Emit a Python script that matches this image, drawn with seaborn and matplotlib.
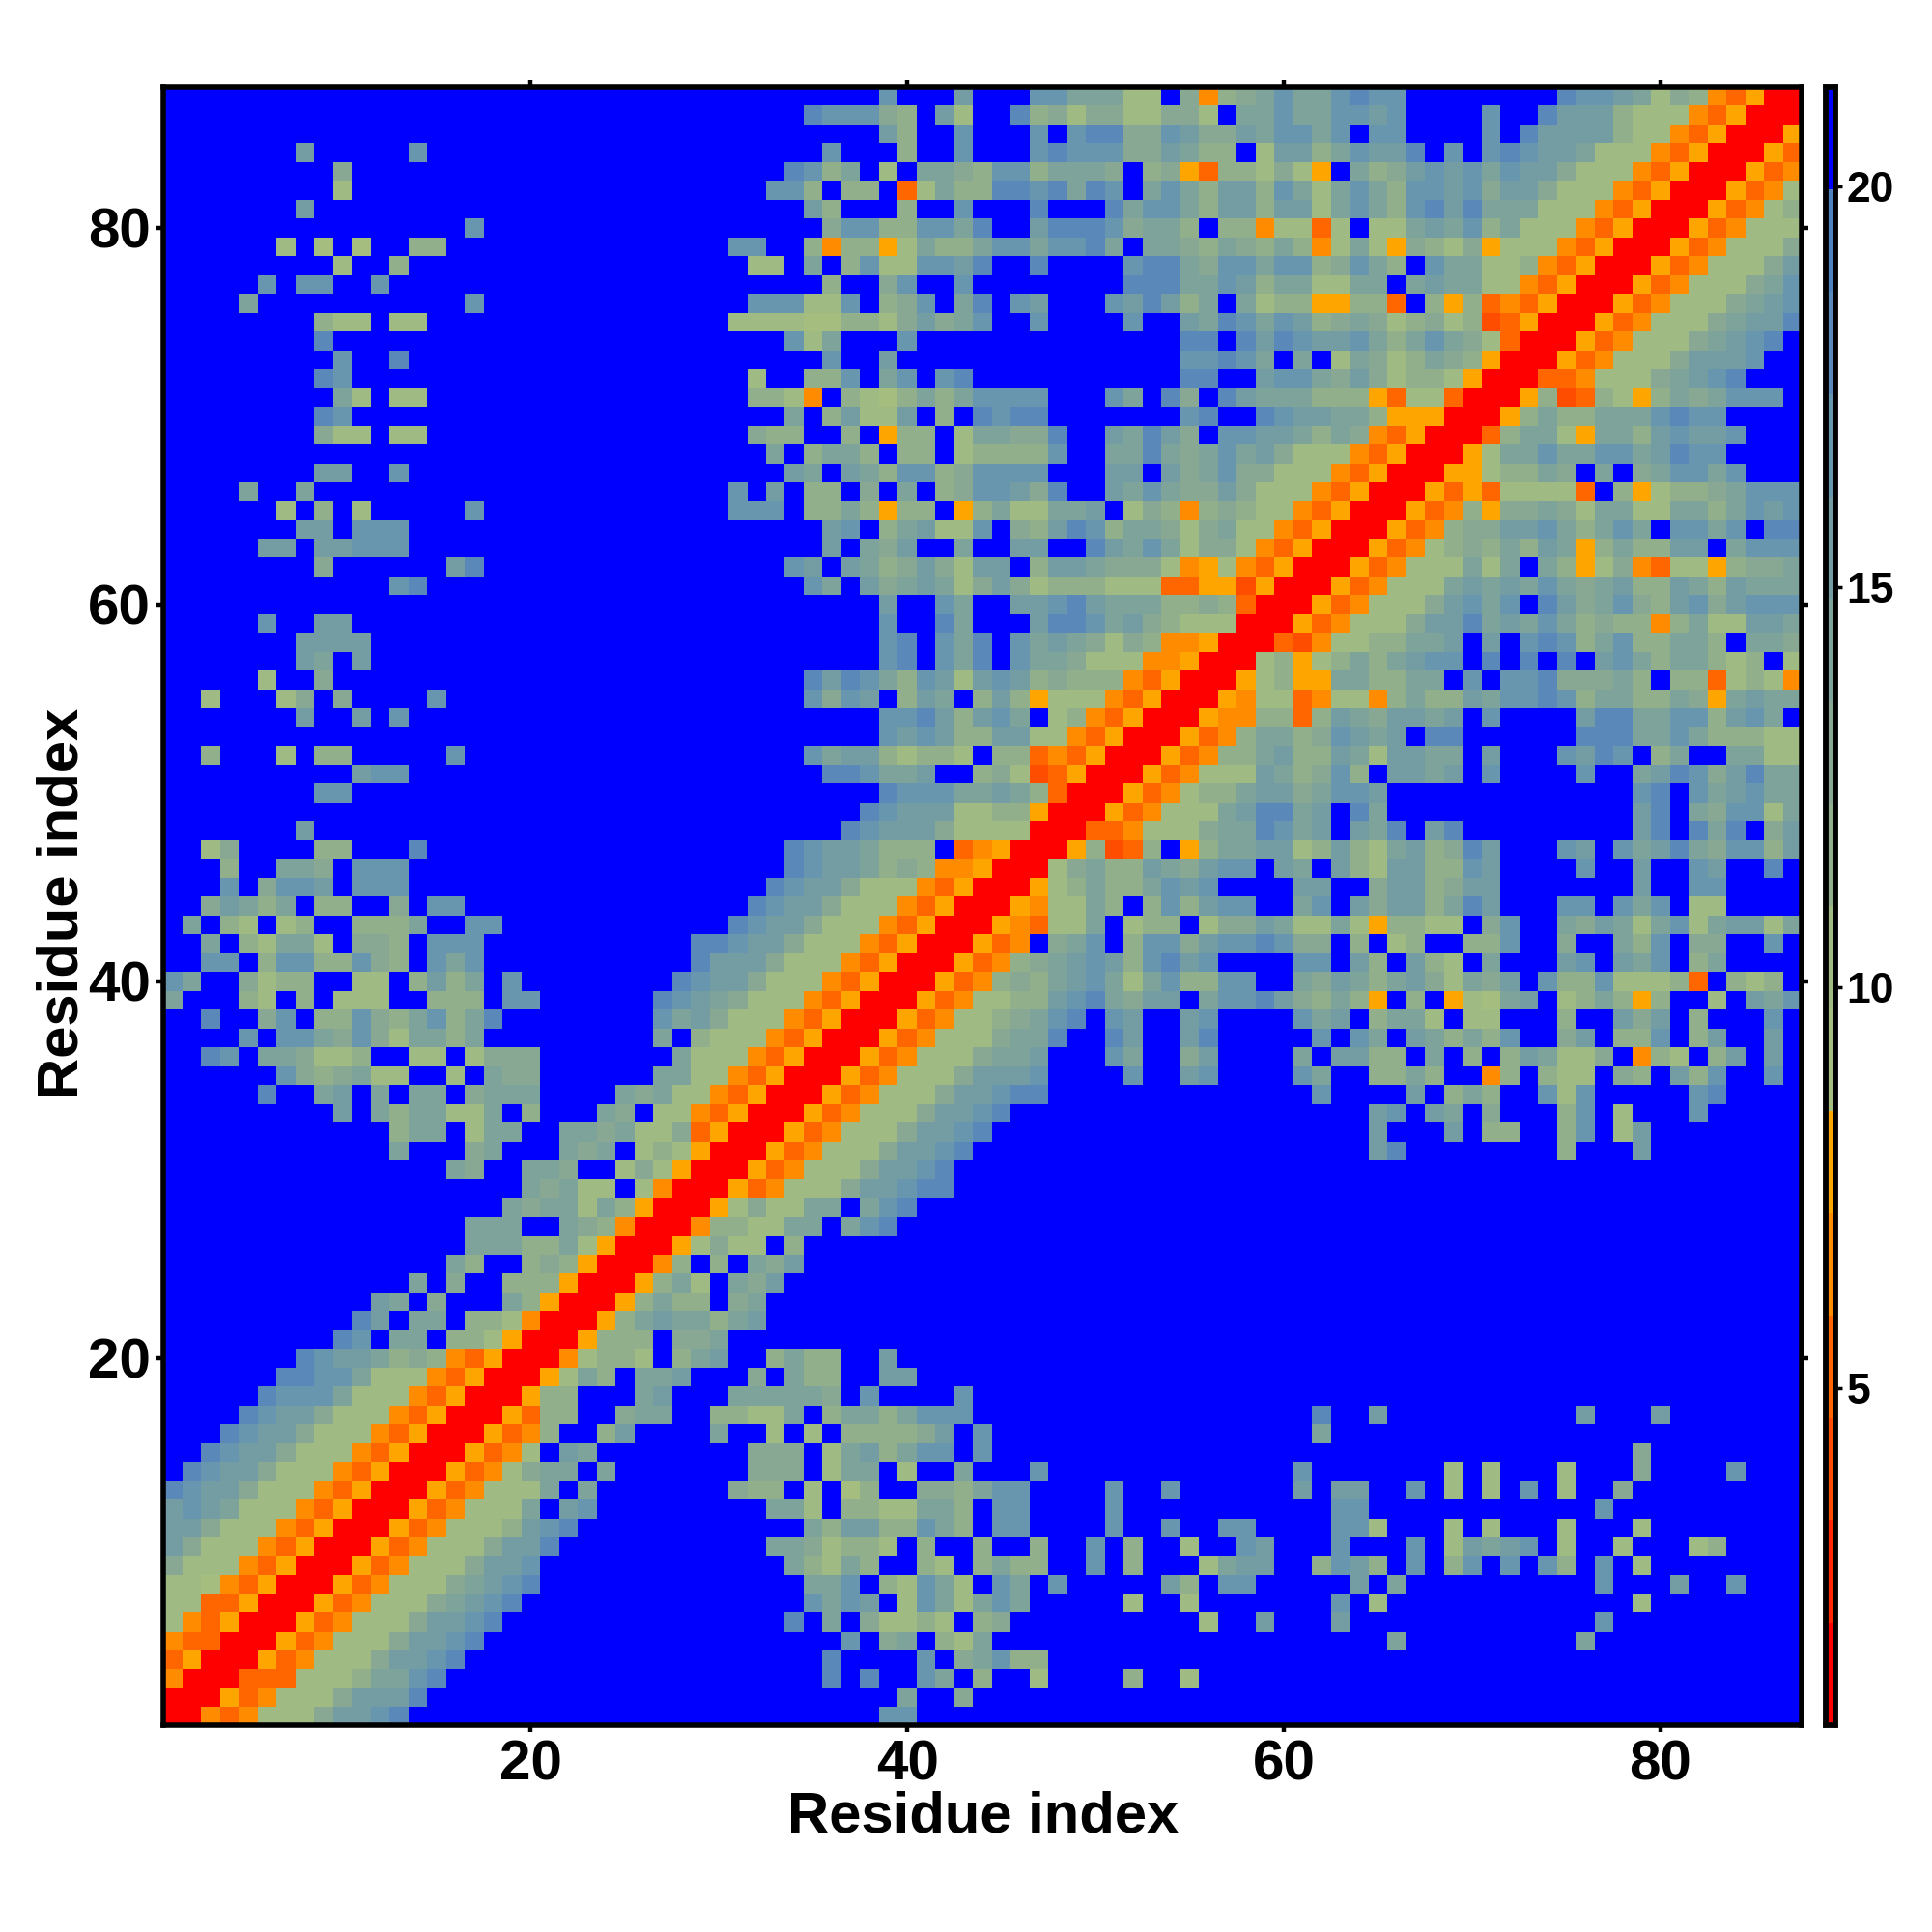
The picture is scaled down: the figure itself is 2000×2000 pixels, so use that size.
import matplotlib
matplotlib.use("Agg")
import matplotlib.pyplot as plt
from matplotlib.colors import ListedColormap, BoundaryNorm
import numpy as np
import pandas as pd
import seaborn as sns

# distance bands, from the colour bar (red = close, blue = far)
BAND_CODES = "R1yxDo6789abcde."
BAND_EDGES = [0.79, 2.07, 3.35, 4.63, 5.91, 7.19, 8.46, 9.74, 11.02, 12.30,
              13.58, 14.86, 16.14, 17.41, 18.69, 19.97, 21.25]
BAND_VALUES = [1.4, 2.7, 4.0, 5.3, 6.6, 7.8, 9.1, 10.4, 11.7, 12.9,
               14.2, 15.5, 16.8, 18.0, 19.3, 20.6]
BAND_COLORS = ["#ff0000", "#ff2600", "#ff4d00", "#ff6600", "#ff8c00", "#ffa500",
               "#a5be80", "#a0ba84", "#92af8c", "#88a893", "#7ea39b", "#749ca3",
               "#6796ae", "#5a88b8", "#4f81bd", "#0000ff"]

TICKS = [20, 40, 60, 80]
CBAR_TICKS = [5, 10, 15, 20]
N_RES = 87

# one entry per row, residue 87 first; "col:codes" runs, anything left out is blue
ROWS = [
    "38:c 42:b 46:cc 48:aaa 51:77 54:9D89 58:acaacdcc 74:dccba798DxoRR",
    "34:dccc98 41:b7 45:d8979977997 57:aacaaccbc 70:c 73:dbbb8777DxoRRR",
    "38:b8 42:c 46:c 48:cdd99cb99b 58:accac 64:cc 70:c 72:dbbbb877DxoRRRo",
    "7:b 13:c 35:c 39:8 42:c 46:cdccc99ba88 58:7bb8acbbd 68:c 70:cdcbba777DxoRRRox",
    "9:9 33:dc8a 38:7 40:aa98cc8aaa9 52:89ox88 58:797o 63:a89bcbcacbb9777DxoRRRoxD",
    "9:7 32:cc8 36:88 39:x7a88ddcdadc 52:aca8bb 58:8ca7aca8ccbc9bb9777DxoRRRoxD7",
    "7:b 34:b8 39:8 42:c 46:d 50:dacca8bb 58:8bb7aca8cdbdaaa777DxoRRRoxD78",
    "16:c 35:9cc88ccad 46:bdddc9aa8 56:88D77x7 64:77abac8a777DxoRRRoxD777",
    "6:7 8:6 10:6 13:88 30:cc 34:8D88o7a88accaccda 52:aa98a98a8D7a7o9879o777DxoRRRoxD7779",
    "9:7 12:8 31:77 34:a 36:8c77ccbd 46:d 51:cdda9cc 58:acc89ca8 67:caa778DxoRRRoxD7779b",
    "5:c 7:cc 11:c 35:8 38:9c 42:c 51:dddaacb 58:8aa77aa 66:abaa77DxoRRRoxD7779ac",
    "4:a 16:c 31:ccc77c 38:89c 42:ad 45:cb 50:cbdb8a 57:a788oo88x 67:8o8xDxoRRRoxD7779abc",
    "8:877 12:77 30:7777668879b9ac 46:c 51:c 54:badc 58:acb89a978978yxoRRRoxD7779abbd",
    "8:d 33:c7a 39:c 54:dd 57:dbdcbbca8aca97xRRRoxD7779abcd",
    "9:c 12:d 35:c 38:b 54:ccdca 60:a 62:7a978a98oRRRoxD7779bbbc",
    "8:dc 31:7 34:88c 38:ac 41:cd 54:dd 58:bcca9b97887oRRRxxD7779abcd",
    "9:a7 12:77 31:887D 36:8768a8acccc 50:ca 53:d9 56:db 58:aaa888ox77xRRRo8yx87o8a9accc",
    "8:dc 33:a 35:8b77b 41:8 43:dcdd 54:cd 58:dcbbaa8oooRRRo8a88aaacdcc",
    "8:977 12:77 31:988 36:8 38:o88 42:7aa99d 50:badb9 56:cc 58:bba8a9DxoRRRx8aa7oaa8bcbbc",
    "32:a 34:8aa8 39:88 42:78888c 50:aada9aca 58:b9777DxoRRRo7aacaaccabdcc",
    "8:bb 12:c 33:ba 36:ba8cc89cccc 50:bb 53:b9ac9 58:9777DxoRRRoo788a9 76:a 78:9accac",
    "4:a 7:a 30:c 32:b 34:88 37:9 39:a 41:89ccb9d 50:baca99b9 58:777DxoRRRoxox7777x 77:8o7889accc",
    "6:7 8:8 10:7 16:c 30:ccc 34:88a8o88 42:o8a77aab 51:798D898 58:77DxoRRRoxD8o99a97aa77aa8acbc",
    "7:bb 10:ccc 35:bc 38:8ab77c 45:98bdc8aa979a77DxoRRRoxD899bbca8aca 80:ccac 85:dd",
    "5:bb 8:bbccc 35:b 37:a9b 42:a 45:bb 49:dbaca7997DxoRRRoxD7898a8bao8a88bb 83:accc",
    "8:9 15:bd 33:cb 36:ba89b97bb 46:8bba9997Do7DxoRRRoxD777a7a 73:a8o79Dx77o899a",
    "12:cd 34:ca 37:b9aba79b97888777xxooyoRRRoxD777ababaca9ab88ba8baaa",
    "38:b 41:ca 45:bbcdbaaa8898xRRRoxD7779bcac 73:db9ac98bc9bccc",
    "5:c 8:bb 38:c 41:da 46:bddcab98777RRRoxD7779bbdabaca8988D8a77bba",
    "7:bbbb 38:cd 41:cad 45:caba9798DDoRRRxyD7788aab 70:b 72:cdc8ac88aa8 84:aa9",
    "7:ba 10:b 38:cd 41:cad 45:caa9777DDoRRR78o78a8abcc 70:d 72:d 74:d 76:bca8aa878 86:7",
    "5:7 8:9 34:dbdca8cb7bcb89888DxoRRRo78ooaa88aa 69:c 71:ccd999a8 80:88x787D",
    "2:7 6:79 9:9 14:c 34:c9cb 39:8ba 43:8b8o777DxoRRRoD77xD77D8a88baccdc8aa88a9oabaa",
    "7:b 10:b 12:c 38:ccdb8bca 47:78DxoRRRoDD88x8ba9bbab 70:c 75:bddaacc8bca",
    "38:cbcb88bb77DxoRRRoxD8aa89cbab 67:dd 75:dddaaca88877",
    "2:8 6:7 8:88 15:c 34:cabb87887 44:88xDxoRRRoxD88ab88ba7bbaa 70:b 74:cbdc 79:8a 83:aa77",
    "10:bcc 35:ddcaab 43:897yxoRRRoxD777ba89c8 65:bbab 70:c 75:c 78:abdc9bdaa",
    "8:cc 38:dcccaaba8xRRRoxD788abb9accb 78:cd 81:cabcaa",
    "37:dcbbb7788oRRRoxD777abddab 63:da 78:bd 81:a9cc7a",
    "7:b 36:dcbbb97777RRRxxD7779aadcab 63:bad 67:bd 78:bd 81:dad 85:9b",
    "2:79 8:88 13:d 33:dcbba888 42:xDoRRRo8yx8 54:o8aabb78b87ab89db 74:cb 77:cabda9cc8b",
    "3:8 6:aa9 10:ccc 33:dcbba898DDoRRR79a88ba9bcc 59:ba 62:b87bb88cb 75:c 78:b 81:cb 85:d",
    "3:c 5:9ccb 10:ccc 32:dcbb9777DxoRRRo78a88acbc 60:bb 64:9bb89bb 78:b 81:cc",
    "2:9ba8a 8:88 12:9 14:cc 31:dcbb9777DxoRRRoD77a8 52:8c8bcc 60:ac 63:b9bb8adb 74:cc 77:cac 81:77",
    "1:a 3:87 6:78 10:888a 16:cc 30:dcbb9777DxoRRRoDx77a 51:788 55:799ba77a7o8877 70:9c 74:a9ba7ac7abb7a",
    "2:a 4:87aa7 10:998 14:ccc 28:ddcbb9777DxoRRRoxD 47:9ac 51:8cc9bccdc99 63:8 65:78 69:88c 74:9 77:a8c 81:99 85:c",
    "2:cc 5:8cc88c98 14:cac 28:dbbb9777DxoRRRoxD89abcb8cdbc 60:cc 63:b8 66:b87 70:a 74:bc 77:bac 81:8a",
    "0:ca 4:9788 10:77 13:8b8a 18:c 27:dcbb9777DxoRRRoxD898abca7ac88cc 60:a9ba8ab97a9b 73:c88c7778x 83:878",
    "0:a 4:87 7:8 9:777 14:888 18:cc 26:dcba9777DxoRRRoxD7788bcda9bb 55:accdb98a8o 66:8 68:o76ab 74:78a8o8 82:7 84:bac",
    "2:d 5:9c 8:88c98ac8ad 26:cab9777DxoRRRoxD7789acd 50:cb 54:bc 60:cab 64:8aa7 69:77 74:8 77:b9b 81:8 85:c",
    "4:c 6:cca9c97aa8a 26:a 28:8777DxoRRRoxD7779aad 50:db 54:bd 61:c 63:ca 66:ba8a8c 74:9b 77:88c 81:8b 85:b",
    "2:dc 5:aa9778 13:77 16:7999 27:a777DxoRRRoxD7779aab 50:ca 54:9b 60:a 62:bb88 67:a 69:8 71:8ba779 78:D87 82:8b 85:b",
    "6:c989a77 15:7 17:a99 26:aa77DxoRRRoxD7779bbbc 51:c 54:bc 60:ca 64:88a8 70:D8 73:877 77:98 80:b8c 85:c",
    "5:d 8:ab 11:a 13:aa 16:9aaa 24:a9a77DxoRRRoxD7779bbcdd 61:c 66:b 68:8a8 73:c7c 81:cd",
    "9:b 11:a8aa77a 19:8 23:a9 26:77DxoRRRoxD7779bbcd 64:bc 67:ba 70:9 74:8c 77:7 81:c",
    "12:8aa 16:7aa 21:aa9a779xoRRRoxD7779bbcd 64:b 68:b 70:88 74:8c 77:7b",
    "12:a 16:9a 21:a9a 25:787oRRRoxD7779bbcd 64:bd 74:8 78:b",
    "15:a9 19:aa9 24:797oRRRoxD7779bbcd",
    "19:a9a77 25:7DRRRoxD7779bbcdd",
    "18:a9aa7a8oRRRo7977aa 37:acd",
    "16:aaa 21:a98DRRRD8877aa 36:acd",
    "16:aaa88a7oRRRo7977 33:8",
    "15:a8 19:898oRRRD8 29:8 31:a9b",
    "13:a 15:9 18:888oRRRo8a7 30:a9b",
    "11:ba 14:9 18:a8oRRRo8a88 30:9a",
    "10:db 13:aa 16:887DRRRo8abaa8ab",
    "9:dc 12:aa 15:887oRRRo888 27:99a",
    "7:dcbba898DxoRRRD7887 27:8ab 32:8a88 38:b",
    "6:ddcca777DxoRRRo7a8 25:aab 31:9 33:a88 38:bb",
    "5:dccca777DxoRRRo88 25:ab 30:aaaaa9 37:c 42:c",
    "4:dcbb9777DxoRRRox88 24:9aa 29:8877a 35:8aa8accc 61:d 64:b 75:b 79:b",
    "3:dcbb9777DxoRRRoxD8 23:8b 29:a 32:7 34:7 36:88889b 43:c 61:a",
    "2:dcbb9777DxoRRRoxD7 21:ba 31:999 35:7ab8acc 43:c 78:9",
    "1:dcbb9777DxoRRRoxD79aa 23:a 31:999 35:7aa 39:7 42:a 46:c 60:c 68:7 70:7 74:7 78:9 83:c",
    "0:dcbb9777DxoRRRoxD777a 22:a 30:988 34:7 36:68 40:998acc 50:c 53:c 60:b 62:bb 66:c 68:7 70:7 72:c 74:7 77:9",
    "0:bcba777DxoRRRoxD777a 21:bc 32:aa7 36:8877aa8 44:cc 50:c 62:cc 76:c",
    "0:bb9777DxoRRRoxD7778bcd 34:a8bb88ca8 44:cc 50:c 53:c 56:cc 62:cc7 68:7 70:7 74:7 78:7",
    "0:b9777DxoRRRoxD7779bbd 32:aa97887 40:8 43:8 46:8 49:c 51:8 54:7 57:cb 62:c 66:c 68:7babc 74:7 77:7 81:78",
    "0:9777DxoRRRoxD7779bbc 33:a87a8 40:87 43:8a88 49:c 51:8 55:7abb 61:8cb8 66:c 68:8c 71:c 73:c8 76:c 78:7",
    "0:776DxoRRRoxD7779abcd 34:aac 38:87ca7 44:ca 47:c 53:b8 56:cc 63:b 65:a 76:c 80:b 83:c",
    "0:77xxoRRRoxD7779abcd 34:cacb 39:7ca7aca 51:7 54:7 62:c 64:7 78:7",
    "0:7DxoRRRoxD7779bbcd 33:d 35:a 37:97787 43:89 55:7 58:b 62:b 76:c",
    "0:DxxRRRoxD7779bbcd 36:c 38:9a 41:87a 65:a 75:a",
    "0:xoRRRoxD7779bbcd 35:d 40:c 42:9ac88",
    "0:DRRRxxx7778aacd 35:d 37:d 40:ca 43:8 46:7 51:8 54:7",
    "0:RRRoxD7779bbbd 39:a 42:9",
    "0:RRDxD7779bbcd 38:cc",
]


def decode(row):
    vals = [BAND_VALUES[-1]] * N_RES
    for run in row.split():
        start, codes = run.split(":")
        for i, code in enumerate(codes):
            vals[int(start) + i] = BAND_VALUES[BAND_CODES.index(code)]
    return vals


df = pd.DataFrame([decode(r) for r in ROWS],
                  index=range(N_RES, 0, -1), columns=range(1, N_RES + 1))

sns.set_theme(style="white")
plt.rcParams["font.family"] = ["Liberation Sans", "DejaVu Sans"]
plt.rcParams["font.weight"] = "bold"

fig = plt.figure(figsize=(20, 20), dpi=100)
ax = fig.add_axes([169.3 / 2000, 1 - 1786 / 2000, 1695.7 / 2000, 1696.4 / 2000])
cax = fig.add_axes([1889.7 / 2000, 1 - 1786 / 2000, 10.6 / 2000, 1696.4 / 2000])

cmap = ListedColormap(BAND_COLORS)
norm = BoundaryNorm(BAND_EDGES, cmap.N)
sns.heatmap(df, ax=ax, cbar_ax=cax, cmap=cmap, norm=norm, square=False,
            xticklabels=False, yticklabels=False,
            cbar_kws={"ticks": CBAR_TICKS})

ax.set_xticks([t - 0.5 for t in TICKS])
ax.set_xticklabels([str(t) for t in TICKS], fontsize=42, fontweight="bold", rotation=0)
ax.set_yticks([N_RES - t + 0.5 for t in TICKS])
ax.set_yticklabels([str(t) for t in TICKS], fontsize=42, fontweight="bold", rotation=0)
ax.tick_params(axis="both", which="major", length=5, width=3.2, color="black",
               top=True, right=True, bottom=True, left=True, labelcolor="black")
ax.tick_params(axis="x", pad=5.5)
ax.tick_params(axis="y", pad=4.5)
for side in ax.spines:
    ax.spines[side].set_visible(True)
    ax.spines[side].set_linewidth(4)
    ax.spines[side].set_color("black")
ax.set_xlabel("")
ax.set_ylabel("")
fig.text(1018 / 2000, 1 - 1881 / 2000, "Residue index", fontsize=43, fontweight="bold",
         color="black", ha="center", va="center")
fig.text(65 / 2000, 1 - 935 / 2000, "Residue index", fontsize=43, fontweight="bold",
         color="black", ha="center", va="center", rotation=90)

cbar = ax.collections[0].colorbar
cbar.set_ticks(CBAR_TICKS)
cbar.set_ticklabels([str(t) for t in CBAR_TICKS])
cax.tick_params(length=5, width=2.5, color="black", labelsize=32, pad=3, labelcolor="black")
cax.minorticks_off()
for lab in cax.get_yticklabels():
    lab.set_fontweight("bold")
for side in cax.spines:
    cax.spines[side].set_visible(True)
    cax.spines[side].set_linewidth(4)
cbar.outline.set_visible(True)
cbar.outline.set_linewidth(4)
cbar.outline.set_edgecolor("black")

fig.savefig("out.png", dpi=100, facecolor="white")
